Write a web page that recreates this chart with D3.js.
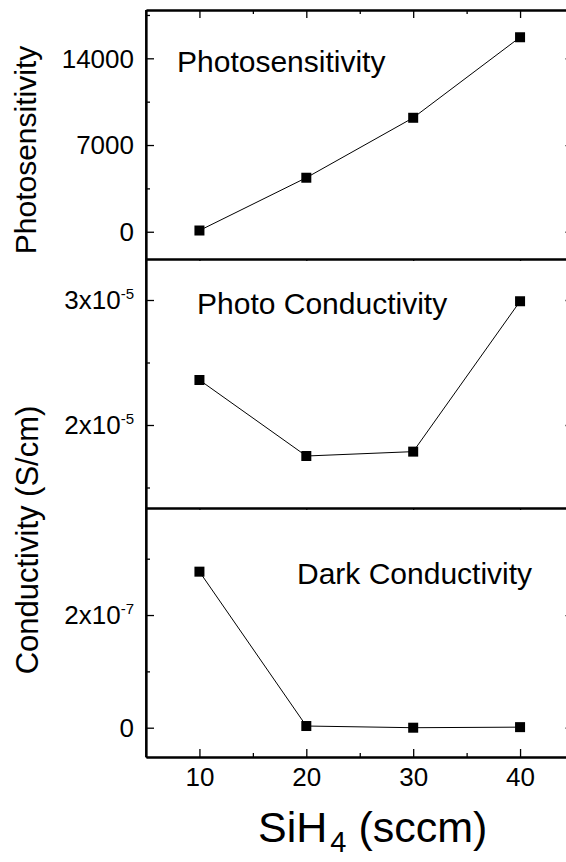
<!DOCTYPE html>
<html>
<head>
<meta charset="utf-8">
<script src="https://cdn.jsdelivr.net/npm/d3@7/dist/d3.min.js"></script>
<style>
  html, body { margin: 0; padding: 0; background: #fff; }
  svg { display: block; }
  text { font-family: "Liberation Sans", Arial, sans-serif; fill: #000; }
</style>
</head>
<body>
<svg id="chart" width="566" height="862"></svg>
<script>
// SiH4 flow rates (sccm)
const sih4 = [10, 20, 30, 40];

// Measured series
const photosensitivity = [100, 4360, 9200, 15700];
const photoConductivity = [2.36e-5, 1.752e-5, 1.787e-5, 2.99e-5];
const darkConductivity = [2.77e-7, 0.03e-7, 0.0, 0.01e-7];

// Axis ticks
const xTicks = [10, 20, 30, 40];
const xMinor = [15, 25, 35];
const psTicks = [0, 7000, 14000];
const psMinor = [-3500, 3500, 10500, 17500];
const pcTicks = [2e-5, 3e-5];
const pcMinor = [1.5e-5, 2.5e-5];
const dcTicks = [0, 2e-7];
const dcMinor = [1e-7, 3e-7];

const psLabels = ["0", "7000", "14000"];
const pcLabels = [["2x10", "-5"], ["3x10", "-5"]];
const dcLabels = [["0", ""], ["2x10", "-7"]];

const svg = d3.select("#chart");

const left = 146, right = 573.5;
const x = d3.scaleLinear().domain([5, 45]).range([left, right]);

const panels = [
  { top: 10,  bottom: 259, domain: [-2200, 17900], values: photosensitivity,
    ticks: psTicks, minor: psMinor, labels: psLabels.map(d => [d, ""]),
    note: "Photosensitivity", noteX: 177, noteY: 72 },
  { top: 259, bottom: 508, domain: [1.336e-5, 3.328e-5], values: photoConductivity,
    ticks: pcTicks, minor: pcMinor, labels: pcLabels,
    note: "Photo Conductivity", noteX: 197, noteY: 314 },
  { top: 508, bottom: 757, domain: [-0.52e-7, 3.9e-7], values: darkConductivity,
    ticks: dcTicks, minor: dcMinor, labels: dcLabels,
    note: "Dark Conductivity", noteX: 297, noteY: 584 }
];

const axisW = 1.8;

panels.forEach((p, i) => {
  const y = d3.scaleLinear().domain(p.domain).range([p.bottom, p.top]);
  const g = svg.append("g");
  const inMinor = p.minor.filter(v => v > p.domain[0] && v < p.domain[1]);

  // left axis: inward major and minor ticks
  g.append("g").attr("transform", `translate(${left},0)`)
    .call(d3.axisLeft(y).tickValues(p.ticks).tickSizeInner(-8).tickSizeOuter(0).tickFormat(""));
  g.append("g").attr("transform", `translate(${left},0)`)
    .call(d3.axisLeft(y).tickValues(inMinor).tickSizeInner(-4).tickSizeOuter(0).tickFormat(""));

  // tick labels with superscript exponents
  p.ticks.forEach((t, k) => {
    const [base, exp] = p.labels[k];
    const txt = g.append("text")
      .attr("x", left - 12).attr("y", y(t))
      .attr("dy", "0.36em")
      .attr("text-anchor", "end")
      .style("font-size", "26px");
    txt.append("tspan").text(base);
    if (exp) {
      txt.append("tspan").attr("dy", "-0.72em").style("font-size", "15px").text(exp);
    }
  });

  // right axis: inward ticks only
  g.append("g").attr("transform", `translate(${right},0)`)
    .call(d3.axisRight(y).tickValues(p.ticks).tickSizeInner(-8).tickSizeOuter(0).tickFormat(""));
  g.append("g").attr("transform", `translate(${right},0)`)
    .call(d3.axisRight(y).tickValues(inMinor).tickSizeInner(-4).tickSizeOuter(0).tickFormat(""));

  // top edge of each panel
  const topTick = i === 0 ? 8 : 2;
  g.append("g").attr("transform", `translate(0,${p.top})`)
    .call(d3.axisTop(x).tickValues(xTicks).tickSizeInner(-topTick).tickSizeOuter(0).tickFormat(""));
  g.append("g").attr("transform", `translate(0,${p.top})`)
    .call(d3.axisTop(x).tickValues(xMinor).tickSizeInner(-topTick / 2).tickSizeOuter(0).tickFormat(""));

  // bottom edge of last panel carries the x axis
  if (i === panels.length - 1) {
    g.append("g").attr("transform", `translate(0,${p.bottom})`)
      .call(d3.axisBottom(x).tickValues(xTicks).tickSizeInner(-8).tickSizeOuter(0).tickPadding(11)
        .tickFormat(d3.format("d")))
      .selectAll("text").style("font-size", "26px").style("font-family", "Liberation Sans, Arial, sans-serif");
    g.append("g").attr("transform", `translate(0,${p.bottom})`)
      .call(d3.axisBottom(x).tickValues(xMinor).tickSizeInner(-4).tickSizeOuter(0).tickFormat(""));
  }

  // data line and square markers
  const line = d3.line().x((d, k) => x(sih4[k])).y(d => y(d));
  g.append("path").datum(p.values)
    .attr("d", line).attr("fill", "none").attr("stroke", "#000").attr("stroke-width", 1);
  g.selectAll("rect.pt").data(p.values).join("rect")
    .attr("class", "pt")
    .attr("x", (d, k) => x(sih4[k]) - 5).attr("y", d => y(d) - 5)
    .attr("width", 10).attr("height", 10).attr("fill", "#000");

  // panel annotation
  g.append("text").attr("x", p.noteX).attr("y", p.noteY)
    .style("font-size", "30px").text(p.note);
});

// frame lines
svg.selectAll("path.domain").attr("stroke", "#000").attr("stroke-width", axisW);
svg.selectAll(".tick line").attr("stroke", "#000").attr("stroke-width", 1.3);
svg.append("line").attr("x1", left).attr("x2", left).attr("y1", 10).attr("y2", 757)
  .attr("stroke", "#000").attr("stroke-width", axisW);
svg.append("line").attr("x1", right).attr("x2", right).attr("y1", 10).attr("y2", 757)
  .attr("stroke", "#000").attr("stroke-width", axisW);

// axis titles
svg.append("text")
  .attr("transform", "translate(36,150) rotate(-90)")
  .attr("text-anchor", "middle").style("font-size", "30px")
  .text("Photosensitivity");
svg.append("text")
  .attr("transform", "translate(38,540) rotate(-90)")
  .attr("text-anchor", "middle").style("font-size", "31px")
  .text("Conductivity (S/cm)");

const xt = svg.append("text").attr("x", 258).attr("y", 842).style("font-size", "43px");
xt.append("tspan").text("SiH");
xt.append("tspan").attr("dy", "0.36em").attr("dx", "3").style("font-size", "29px").text("4");
xt.append("tspan").attr("dy", "-0.24em").attr("dx", "12").text("(sccm)");
</script>
</body>
</html>
